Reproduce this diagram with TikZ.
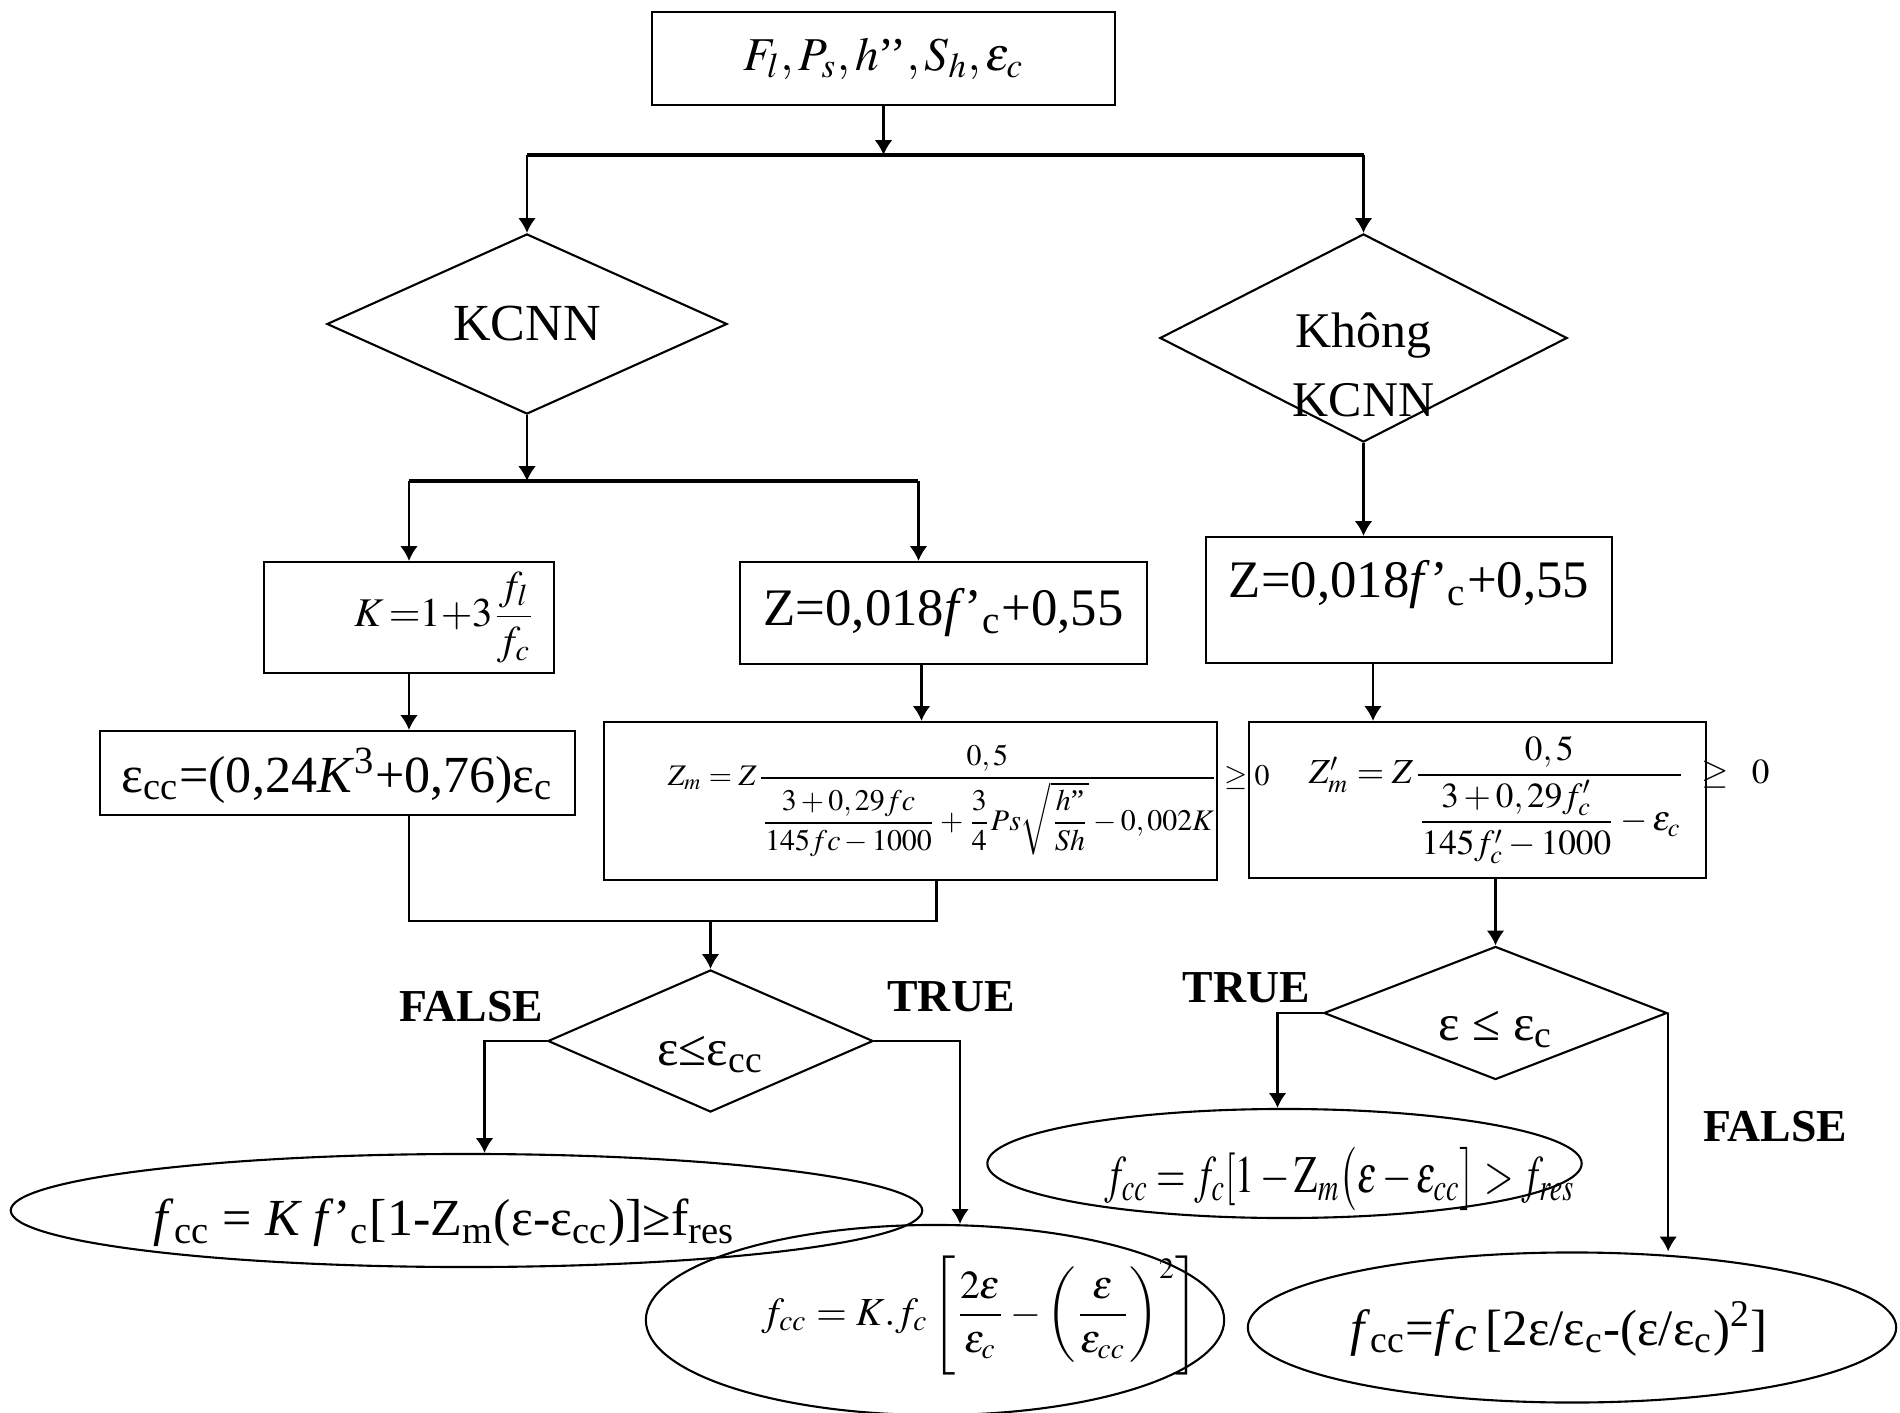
\documentclass[tikz,border=0pt]{standalone}
\usepackage{amsmath}
\usepackage{mathptmx}
\usepackage{graphicx}
\usepackage{fontspec}
\setmainfont{Liberation Serif}
\usetikzlibrary{shapes,arrows.meta,positioning}

\tikzstyle{block} = [rectangle, draw, line width=0.6pt, inner sep=0pt]
\tikzstyle{decision} = [diamond, draw, line width=0.6pt, inner sep=0pt, aspect=2]
\tikzstyle{result} = [ellipse, draw, line width=0.6pt, inner sep=0pt]
\tikzstyle{answer} = [font=\fontsize{13}{15}\selectfont\bfseries]
\tikzstyle{line} = [draw, line width=0.6pt]
\tikzstyle{flow} = [line, -{Latex[length=4.2pt,width=5pt]}]

% text placed at (dx,dy) from the node centre, not counted in its size
\newcommand{\shiftedtext}[3]{\raisebox{#2}[0pt][0pt]{\makebox[0pt]{\hspace*{2\dimexpr#1\relax}#3}}}

\begin{document}
\begin{tikzpicture}[x=0.01cm, y=-0.01cm]
  \useasboundingbox (0,0) rectangle (1900,1413);

  \node [block, minimum width=4.63cm, minimum height=0.93cm, font=\fontsize{13.4}{15}\selectfont] (input) at (883.5,58.5) {$F_l,P_s,h\text{’’},S_h,\varepsilon_c$};

  \node [decision, minimum width=4cm, minimum height=1.8cm, font=\fontsize{14.8}{18}\selectfont] (kcnn) at (527,324) {KCNN};
  \node [decision, minimum width=4.07cm, minimum height=2.08cm, font=\fontsize{14.2}{19.6}\selectfont] (khong) at (1363.5,338) {\raisebox{-0.78cm}[0pt][0pt]{\begin{tabular}[b]{@{}c@{}}Không\\KCNN\end{tabular}}};

  % KCNN branch
  \node [block, minimum width=2.9cm, minimum height=1.11cm, text width=2.52cm, inner xsep=0.19cm, align=right, font=\fontsize{11.6}{14}\selectfont] (kfac) at (409,617.5) {$K\,{=}1{+}3\dfrac{f_l}{f_c}$};
  \node [block, minimum width=4.75cm, minimum height=0.84cm, font=\fontsize{14.8}{18}\selectfont] (epscc) at (337.5,773) {\raisebox{-0.19cm}[0pt][0pt]{ε\textsubscript{cc}=(0,24\textit{K}\textsuperscript{3}+0,76)ε\textsubscript{c}}};
  \node [block, minimum width=4.07cm, minimum height=1.02cm, font=\fontsize{15}{18}\selectfont] (zleft) at (943.5,613) {Z=0,018\textit{f}’\textsubscript{c}+0,55};
  \node [block, minimum width=6.13cm, minimum height=1.58cm, text width=4.85cm, inner xsep=0.64cm, align=left, font=\fontsize{8.5}{10}\selectfont] (zm) at (910.5,801) {\makebox[0pt][l]{$Z_m=Z\dfrac{0,5}{\dfrac{3+0,29fc}{145fc-1000}+\dfrac{3}{4}Ps\sqrt{\dfrac{h\text{"}}{Sh}}-0,002K}\geq 0$}};

  % Khong KCNN branch
  \node [block, minimum width=4.06cm, minimum height=1.26cm, font=\fontsize{15}{18}\selectfont] (zright) at (1409,600) {\raisebox{0.02cm}[0pt][0pt]{Z=0,018\textit{f}’\textsubscript{c}+0,55}};
  \node [block, minimum width=4.57cm, minimum height=1.56cm, text width=3.37cm, inner xsep=0.6cm, align=left, font=\fontsize{10}{12}\selectfont] (zmp) at (1477.5,800) {\makebox[0pt][l]{$Z'_m=Z\dfrac{0,5}{\dfrac{3+0,29f'_c}{145f'_c-1000}-\varepsilon_c}\;\geq\;\;0$}};

  % tests
  \node [decision, minimum width=3.25cm, minimum height=1.42cm, font=\fontsize{14.5}{16}\selectfont] (cmp1) at (710.5,1041) {\raisebox{-0.24cm}[0pt][0pt]{ε≤ε\textsubscript{cc}}};
  \node [decision, minimum width=3.43cm, minimum height=1.33cm, font=\fontsize{14.5}{16}\selectfont] (cmp2) at (1495.5,1013) {\raisebox{-0.27cm}[0pt][0pt]{ε ≤ ε\textsubscript{c}}};

  \node [answer] (false1) at (471,1007) {FALSE};
  \node [answer] (true1) at (951,997) {TRUE};
  \node [answer] (true2) at (1246,988) {TRUE};
  \node [answer] (false2) at (1775,1127) {FALSE};

  % results
  \node [result, minimum width=9.11cm, minimum height=1.13cm, font=\fontsize{14.8}{17}\selectfont] (fk1) at (466.5,1210.5) {\shiftedtext{-0.22cm}{-0.25cm}{\textit{f}\textsubscript{cc} = \textit{K f}’\textsubscript{c}[1-Z\textsubscript{m}(ε-ε\textsubscript{cc})]≥f\textsubscript{res}}};
  \node [result, minimum width=5.78cm, minimum height=1.9cm, font=\fontsize{11.3}{13}\selectfont] (fk2) at (935,1320) {\shiftedtext{0.45cm}{-0.05cm}{$f_{cc}=K.f_c\left[\dfrac{2\varepsilon}{\varepsilon_c}-\left(\dfrac{\varepsilon}{\varepsilon_{cc}}\right)^{2}\right]$}};
  \node [result, minimum width=5.94cm, minimum height=1.09cm, font=\fontsize{15}{17}\selectfont] (fc1) at (1284.5,1163.5) {\shiftedtext{0.55cm}{-0.29cm}{\scalebox{0.72}[1]{$f_{cc}=f_c[1-\mathrm{Z}_m\big(\varepsilon-\varepsilon_{cc}\big]>f_{res}$}}};
  \node [result, minimum width=6.48cm, minimum height=1.5cm, font=\fontsize{14.5}{17}\selectfont] (fc2) at (1572,1327.5) {\shiftedtext{-0.13cm}{-0.175cm}{\textit{f}\textsubscript{cc}=\textit{f}\raisebox{-0.1em}{\textit{c}}\,[2ε/ε\textsubscript{c}-(ε/ε\textsubscript{c})\textsuperscript{2}]}};

  % connectors
  \coordinate (split1) at (input.south |- 0,155);
  \draw [flow] (input) -- (split1);
  \draw [line, line width=1pt] (kcnn |- split1) -- (khong |- split1);
  \draw [flow] (kcnn |- split1) -- (kcnn);
  \draw [flow] (khong |- split1) -- (khong);

  \coordinate (split2) at (kcnn.south |- 0,481);
  \coordinate (zin) at ([xshift=-0.25cm]zleft.north);
  \draw [flow] (kcnn) -- (split2);
  \draw [line, line width=0.9pt] (kfac.north |- split2) -- (zin |- split2);
  \draw [flow] (kfac.north |- split2) -- (kfac);
  \draw [flow] (zin |- split2) -- (zin);

  \draw [flow] (kfac.south) -- (kfac.south |- epscc.north);
  \coordinate (zout) at ([xshift=-0.22cm]zleft.south);
  \draw [flow] (zout) -- (zout |- zm.north);
  \coordinate (join) at (cmp1.north |- 0,921);
  \coordinate (zmout) at ([xshift=0.26cm]zm.south);
  \draw [line] (kfac.south |- epscc.south) |- (zmout |- join) -- (zmout);
  \draw [flow] (join) -- (cmp1);

  \coordinate (fk1in) at ([xshift=0.18cm]fk1.north);
  \coordinate (fk2in) at ([xshift=0.25cm]fk2.north);
  \draw [flow] (cmp1.west) -| (fk1in);
  \draw [flow] (cmp1.east) -| (fk2in);

  \draw [flow] (khong.south) -- (khong.south |- zright.north);
  \coordinate (zrout) at ([xshift=-0.36cm]zright.south);
  \draw [flow] (zrout) -- (zrout |- zmp.north);
  \draw [flow] (cmp2.north |- zmp.south) -- (cmp2);
  \coordinate (fc1in) at ([xshift=-0.07cm]fc1.north);
  \draw [flow] (cmp2.west) -| (fc1in);
  \draw [flow] (cmp2.east) -- (cmp2.east |- fc2.north);
\end{tikzpicture}
\end{document}
